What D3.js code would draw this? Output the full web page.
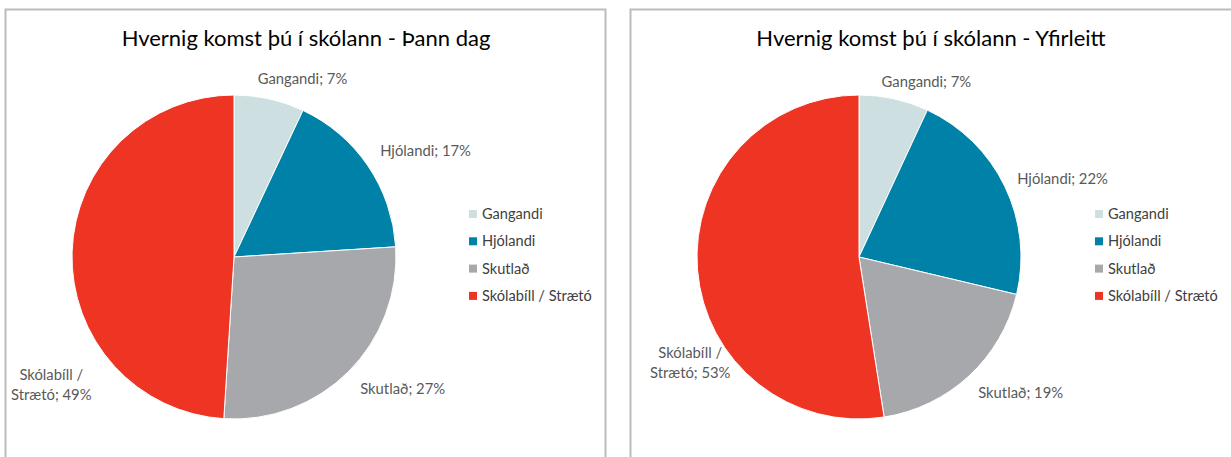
<!DOCTYPE html>
<html>
<head>
<meta charset="utf-8">
<script src="https://cdn.jsdelivr.net/npm/d3@7"></script>
<style>
  body { margin: 0; background: #fff; }
  text { font-family: Lato, "Noto Sans", sans-serif; }
</style>
</head>
<body>
<script>
const width = 1231;
const height = 457;

// categories and colours
const categories = ["Gangandi", "Hjólandi", "Skutlað", "Skólabíll / Strætó"];
const colors = ["#cddfe1", "#0081a7", "#a7a8ac", "#ee3524"];

// percentages as shown on the labels
const valuesDay = [7, 17, 27, 49];
const valuesUsual = [7, 22, 19, 53];

const titles = [
  "Hvernig komst þú í skólann - Þann dag",
  "Hvernig komst þú í skólann - Yfirleitt"
];

// label placement (angle in degrees, distance from centre), Excel "best fit" look
const labelPlaces = [
  [[21, 191], [61, 219], [128, 214], [235, 223]],
  [[21, 188], [69, 218], [130, 211], [238, 199]]
];

const panels = [
  { x: 5, w: 600, cx: 234, values: valuesDay, legendX: 469 },
  { x: 630, w: 620, cx: 859, values: valuesUsual, legendX: 1095 }
];
const cy = 257;
const radius = 162;

const svg = d3.select("body").append("svg")
  .attr("width", width)
  .attr("height", height);

const colorScale = d3.scaleOrdinal().domain(categories).range(colors);
const pie = d3.pie().sort(null).value(d => d.value);
const arc = d3.arc().innerRadius(0).outerRadius(radius);

panels.forEach((p, pi) => {
  const data = categories.map((c, i) => ({ name: c, value: p.values[i] }));

  // panel frame
  svg.append("rect")
    .attr("x", p.x + 0.5)
    .attr("y", 9.5)
    .attr("width", p.w)
    .attr("height", height)
    .attr("fill", "none")
    .attr("stroke", "#bcbcbc")
    .attr("stroke-width", 2);

  svg.append("text")
    .attr("x", p.x + 301)
    .attr("y", 46)
    .attr("text-anchor", "middle")
    .attr("font-size", 22)
    .attr("fill", "#000")
    .text(titles[pi]);

  const g = svg.append("g")
    .attr("transform", `translate(${p.cx}, ${cy})`);

  g.selectAll("path").data(pie(data)).join("path")
    .attr("d", arc)
    .attr("fill", d => colorScale(d.data.name))
    .attr("stroke", "#fff")
    .attr("stroke-width", 1);

  // data labels
  const labels = g.selectAll("text.lbl").data(pie(data)).join("text")
    .attr("class", "lbl")
    .attr("text-anchor", "middle")
    .attr("font-size", 14.8)
    .attr("fill", "#595959")
    .attr("transform", (d, i) => {
      const [a, r] = labelPlaces[pi][i];
      const rad = a * Math.PI / 180;
      return `translate(${Math.sin(rad) * r}, ${-Math.cos(rad) * r})`;
    });

  labels.each(function(d) {
    const t = d3.select(this);
    const label = `${d.data.name}; ${d.data.value}%`;
    if (d.data.name.includes("/")) {
      const parts = label.split("/ ");
      t.append("tspan").attr("x", 0).attr("dy", "-0.3em").text(parts[0] + "/");
      t.append("tspan").attr("x", 0).attr("dy", "1.35em").text(parts[1]);
    } else {
      t.attr("dy", "0.35em").text(label);
    }
  });

  // legend
  const legend = svg.append("g")
    .attr("transform", `translate(${p.legendX}, 214)`);
  const rows = legend.selectAll("g").data(categories).join("g")
    .attr("transform", (d, i) => `translate(0, ${i * 27.3})`);
  rows.append("rect")
    .attr("x", 0).attr("y", -4)
    .attr("width", 8).attr("height", 8)
    .attr("fill", d => colorScale(d));
  rows.append("text")
    .attr("x", 13)
    .attr("dy", "0.35em")
    .attr("font-size", 14.6)
    .attr("fill", "#404040")
    .text(d => d);
});
</script>
</body>
</html>
